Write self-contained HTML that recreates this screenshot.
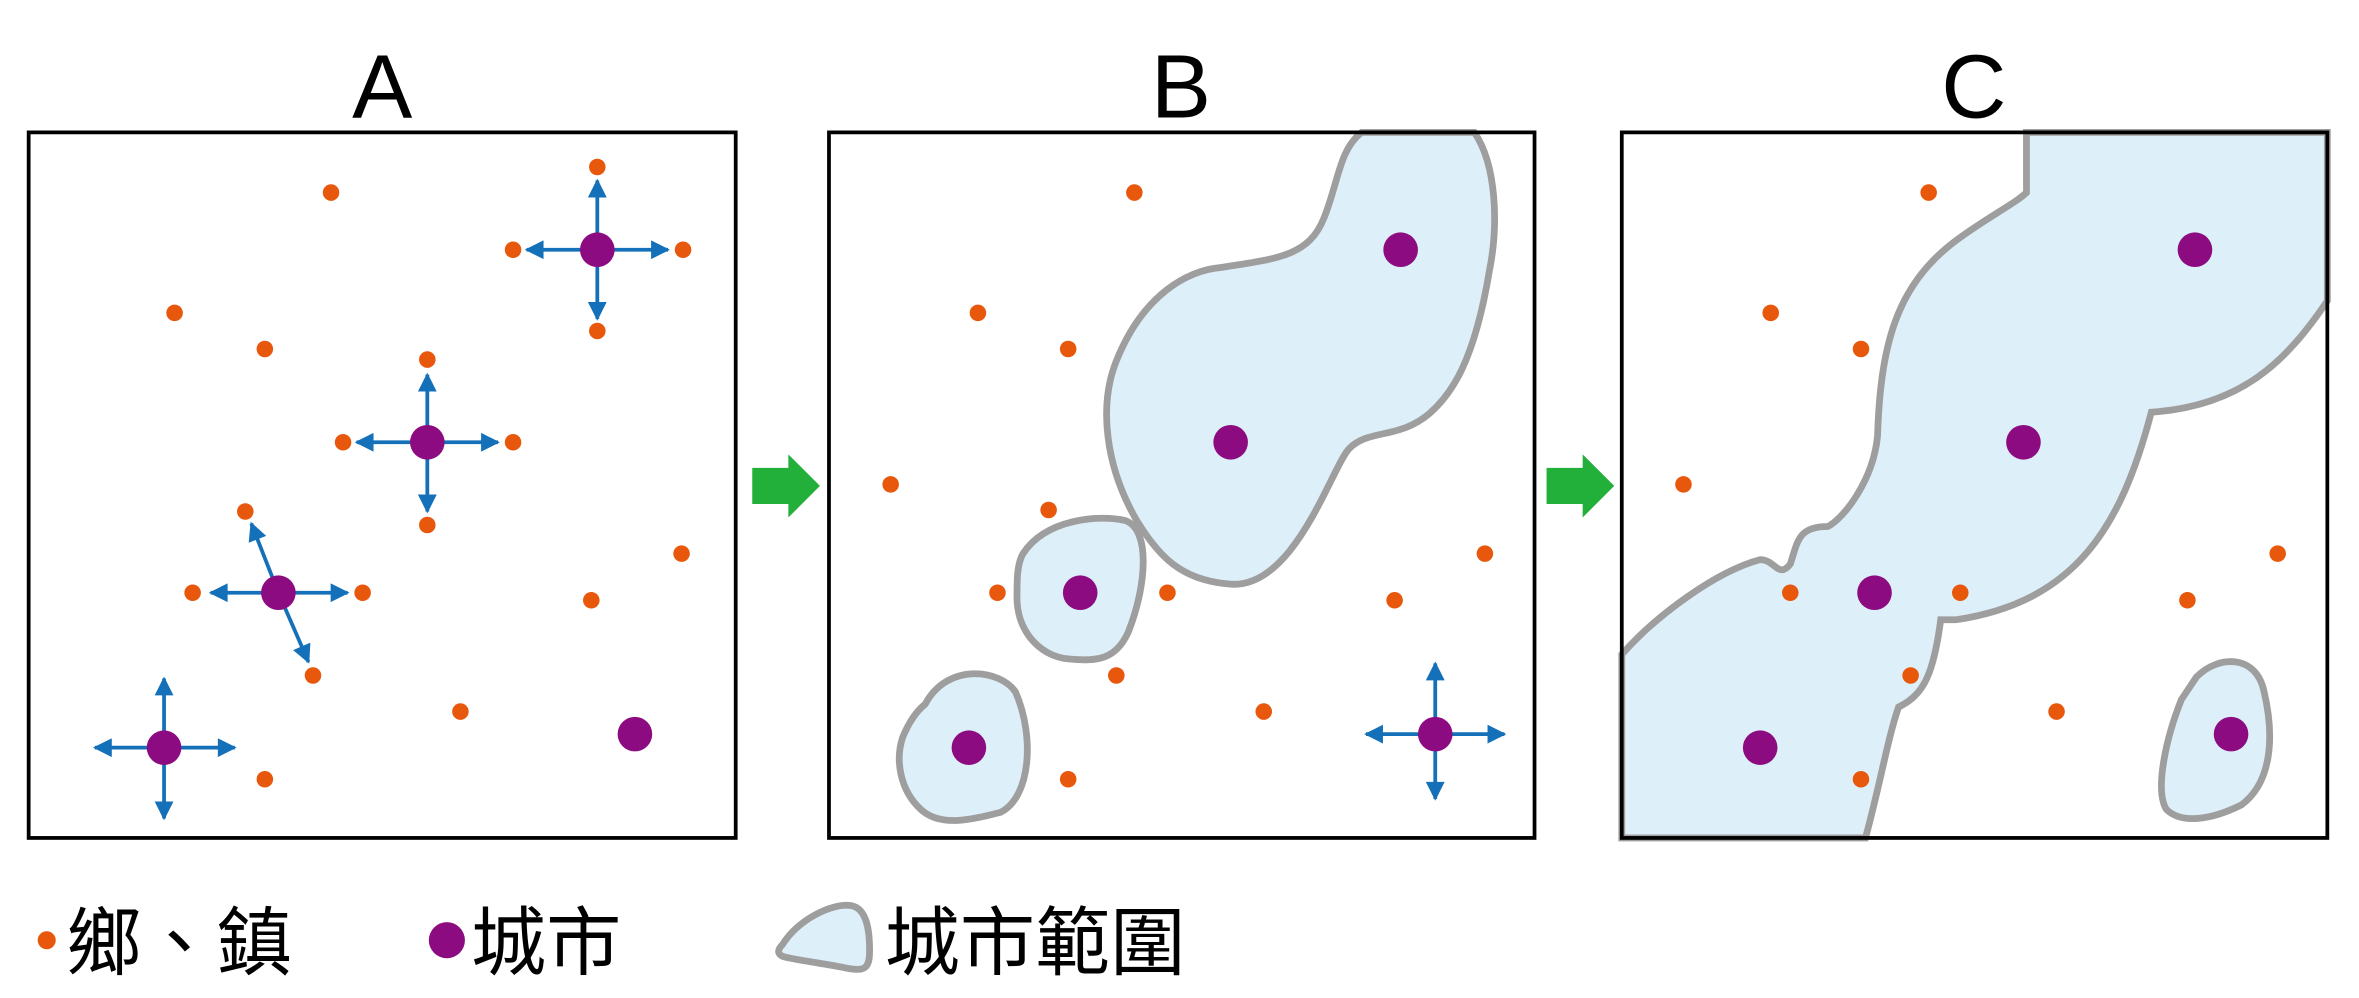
<!DOCTYPE html>
<html><head><meta charset="utf-8"><style>html,body{margin:0;padding:0;background:#fff}svg{display:block}</style></head>
<body>
<svg width="2359" height="998" viewBox="0 0 1568 663.4" xmlns="http://www.w3.org/2000/svg">
<defs>
<marker id="ah" viewBox="0 0 10 10" refX="9" refY="5" markerWidth="6" markerHeight="5" orient="auto"><path d="M0,0 L10,5 L0,10 Z" fill="#1470b8"/></marker>
</defs>
<g font-family="'Liberation Sans',sans-serif" font-size="60" text-anchor="middle" fill="#000">
<text x="254" y="78">A</text><text x="785" y="78">B</text><text x="1312" y="78">C</text>
</g>
<g fill="#ddeff9" stroke="#9e9e9e" stroke-width="4.5">
<path d="M905,88 L980,88 C995,110 996,150 990,180 C980,240 965,262 950,275 C930,292 910,285 897,298 C885,310 860,395 815,388 C785,385 770,370 755,345 C735,310 730,270 742,240 C760,195 790,180 810,178 C850,172 870,170 880,145 C890,120 890,100 905,88 Z"/>
<path d="M680,368 C695,345 730,342 748,346 C765,352 762,390 750,420 C742,438 730,440 710,438 C690,436 675,418 676,395 C676,385 676,375 680,368 Z"/>
<path d="M615,468 C630,440 665,445 675,460 C688,490 685,530 665,540 C645,545 625,550 612,538 C598,525 595,505 600,490 C605,478 610,472 615,468 Z"/>
<path d="M1347,88 L1547,88 L1547,200 C1520,240 1490,270 1430,274 C1410,350 1380,400 1300,412 L1290,412 C1285,450 1278,462 1262,470 C1255,490 1250,520 1240,557 L1078,557 L1078,435 C1100,410 1140,380 1170,372 C1180,372 1182,385 1190,375 C1195,360 1195,350 1215,350 C1225,345 1245,320 1248,290 C1250,230 1260,190 1300,160 C1320,145 1340,135 1347,128 Z"/>
<path d="M1460,450 C1475,435 1500,435 1505,460 C1512,490 1510,520 1490,535 C1470,545 1450,548 1440,538 C1432,525 1440,490 1450,465 Z"/>
<path d="M520,628 C530,612 552,600 566,602 C576,604 578,618 578,632 C578,645 574,646 560,643 C545,640 528,638 521,636 C516,634 517,631 520,628 Z"/>
</g>
<g fill="none" stroke="#000" stroke-width="2.5">
<rect x="19" y="88" width="470" height="469"/><rect x="551" y="88" width="469" height="469"/><rect x="1078" y="88" width="469" height="469"/>
</g>
<g fill="#22b03a">
<path d="M500,311 L524,311 L524,302 L545,323 L524,344 L524,335 L500,335 Z"/>
<path d="M1028,311 L1052,311 L1052,302 L1073,323 L1052,344 L1052,335 L1028,335 Z"/>
</g>
<g stroke="#1470b8" stroke-width="2.5" marker-end="url(#ah)">
<line x1="397" y1="166" x2="397" y2="120"/><line x1="397" y1="166" x2="397" y2="212"/><line x1="397" y1="166" x2="350" y2="166"/><line x1="397" y1="166" x2="444" y2="166"/>
<line x1="284" y1="294" x2="284" y2="249"/><line x1="284" y1="294" x2="284" y2="340"/><line x1="284" y1="294" x2="237" y2="294"/><line x1="284" y1="294" x2="331" y2="294"/>
<line x1="185" y1="394" x2="140" y2="394"/><line x1="185" y1="394" x2="231" y2="394"/><line x1="185" y1="394" x2="167" y2="348"/><line x1="185" y1="394" x2="205" y2="440"/>
<line x1="109" y1="497" x2="109" y2="451"/><line x1="109" y1="497" x2="109" y2="544"/><line x1="109" y1="497" x2="63" y2="497"/><line x1="109" y1="497" x2="156" y2="497"/>
<line x1="954" y1="488" x2="954" y2="441"/><line x1="954" y1="488" x2="954" y2="531"/><line x1="954" y1="488" x2="908" y2="488"/><line x1="954" y1="488" x2="1000" y2="488"/>
</g>
<g fill="#e8580c">
<circle cx="220" cy="128" r="5.5"/><circle cx="397" cy="111" r="5.5"/><circle cx="341" cy="166" r="5.5"/><circle cx="454" cy="166" r="5.5"/><circle cx="397" cy="220" r="5.5"/><circle cx="116" cy="208" r="5.5"/><circle cx="176" cy="232" r="5.5"/><circle cx="284" cy="239" r="5.5"/><circle cx="228" cy="294" r="5.5"/><circle cx="341" cy="294" r="5.5"/><circle cx="284" cy="349" r="5.5"/><circle cx="163" cy="340" r="5.5"/><circle cx="128" cy="394" r="5.5"/><circle cx="241" cy="394" r="5.5"/><circle cx="208" cy="449" r="5.5"/><circle cx="453" cy="368" r="5.5"/><circle cx="393" cy="399" r="5.5"/><circle cx="306" cy="473" r="5.5"/><circle cx="176" cy="518" r="5.5"/>
<circle cx="754" cy="128" r="5.5"/><circle cx="650" cy="208" r="5.5"/><circle cx="710" cy="232" r="5.5"/><circle cx="592" cy="322" r="5.5"/><circle cx="697" cy="339" r="5.5"/><circle cx="663" cy="394" r="5.5"/><circle cx="776" cy="394" r="5.5"/><circle cx="742" cy="449" r="5.5"/><circle cx="840" cy="473" r="5.5"/><circle cx="710" cy="518" r="5.5"/><circle cx="987" cy="368" r="5.5"/><circle cx="927" cy="399" r="5.5"/>
<circle cx="1282" cy="128" r="5.5"/><circle cx="1177" cy="208" r="5.5"/><circle cx="1237" cy="232" r="5.5"/><circle cx="1119" cy="322" r="5.5"/><circle cx="1190" cy="394" r="5.5"/><circle cx="1303" cy="394" r="5.5"/><circle cx="1270" cy="449" r="5.5"/><circle cx="1367" cy="473" r="5.5"/><circle cx="1237" cy="518" r="5.5"/><circle cx="1514" cy="368" r="5.5"/><circle cx="1454" cy="399" r="5.5"/>
<circle cx="31" cy="625" r="6"/>
</g>
<g fill="#8c0b80">
<circle cx="397" cy="166" r="11.5"/><circle cx="284" cy="294" r="11.5"/><circle cx="185" cy="394" r="11.5"/><circle cx="109" cy="497" r="11.5"/><circle cx="422" cy="488" r="11.5"/>
<circle cx="931" cy="166" r="11.5"/><circle cx="818" cy="294" r="11.5"/><circle cx="718" cy="394" r="11.5"/><circle cx="644" cy="497" r="11.5"/><circle cx="954" cy="488" r="11.5"/>
<circle cx="1459" cy="166" r="11.5"/><circle cx="1345" cy="294" r="11.5"/><circle cx="1246" cy="394" r="11.5"/><circle cx="1170" cy="497" r="11.5"/><circle cx="1483" cy="488" r="11.5"/>
<circle cx="297" cy="625" r="12"/>
</g>
<g font-family="'Liberation Sans','Noto Sans CJK TC',sans-serif" font-size="50" fill="#000">
<text x="44" y="644">鄉、鎮</text><text x="313" y="644">城市</text><text x="588" y="644">城市範圍</text>
</g>
</svg>
</body></html>
